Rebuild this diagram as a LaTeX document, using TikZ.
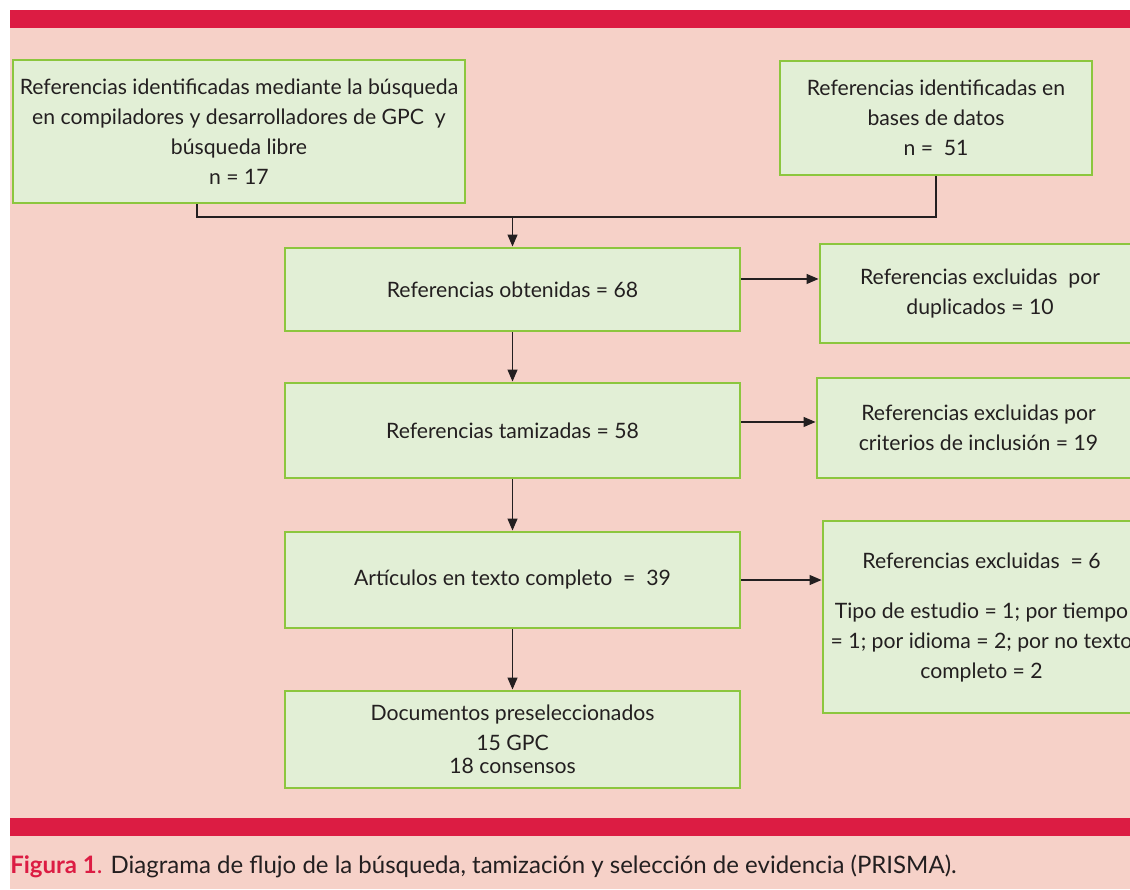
\documentclass[tikz,border=0pt]{standalone}
\usepackage{fontspec}
\setmainfont{Lato}
\usetikzlibrary{arrows.meta}

\definecolor{redbar}{HTML}{DC1C43}
\definecolor{pinkbg}{HTML}{F6D1C8}
\definecolor{boxfill}{HTML}{E2EFD6}
\definecolor{boxline}{HTML}{8CC63E}
\definecolor{textgray}{HTML}{231F20}

\tikzstyle{greenbox} = [rectangle, minimum width=341.25pt, minimum height=72pt, inner sep=0pt, align=center, text centered, draw=boxline, line width=2.2pt, fill=boxfill, text=textgray, font=\fontsize{15.9}{22.5}\selectfont]
\tikzstyle{arrow} = [line width=0.9pt, draw=textgray, -{Triangle[length=9pt, width=7.5pt]}]
\tikzstyle{joinline} = [line width=0.9pt, draw=textgray]

\begin{document}
\begin{tikzpicture}[x=0.75pt, y=-0.75pt]

% page, panel and red bars
\useasboundingbox (0,0) rectangle (1130,889);
\fill[pinkbg] (10,10) rectangle (1135,889);
\fill[redbar] (10,10) rectangle (1135,28);
\fill[redbar] (10,818) rectangle (1135,836);

% Top row - identification
\node (searchREF) [greenbox, minimum width=339pt, minimum height=107.25pt] at (239,131.5) {Referencias identificadas mediante la búsqueda\\ en compiladores y desarrolladores de GPC\ \ y\\ búsqueda libre\\ n = 17};
\node (dbREF) [greenbox, minimum width=234pt, minimum height=85.5pt] at (936,118) {Referencias identificadas en\\ bases de datos\\ n =\ \ 51};

% Column 1 - main flow
\node (obtREF) [greenbox, minimum height=62.25pt] at (512.5,289.5) {Referencias obtenidas = 68};
\node (screenREF) [greenbox, minimum height=71.25pt] at (512.5,430.5) {Referencias tamizadas = 58};
\node (fullTXT) [greenbox] at (512.5,580) {Artículos en texto completo\ \ =\ \ 39};
\node (preSEL) [greenbox, minimum height=72.75pt] at (512.5,739.5) {Documentos preseleccionados\\ 15 GPC\\[-5pt] 18 consensos};

% Column 2 - exclusions
\node (exclDUP) [greenbox, minimum width=240pt, minimum height=74.25pt] at (980,293.5) {Referencias excluidas\ \ por\\ duplicados = 10};
\node (exclCRIT) [greenbox, minimum width=242.25pt, minimum height=75pt] at (978.5,428) {Referencias excluidas por\\ criterios de inclusión = 19};
\node (exclTXT) [greenbox, minimum width=237.75pt, minimum height=144pt] at (981.5,617) {Referencias excluidas\ \ = 6\\[15pt] Tipo de estudio = 1; por tiempo\\ = 1; por idioma = 2; por no texto\\ completo = 2};

% Caption
\node (caption) [anchor=base west, inner sep=0pt, text=textgray, font=\fontsize{18}{21}\selectfont] at (10,873) {\textcolor{redbar}{\textbf{Figura 1}.} Diagrama de flujo de la búsqueda, tamización y selección de evidencia (PRISMA).};

% Arrows
\coordinate (merge) at (512.5,217);
\draw [joinline] ([xshift=-31.5pt]searchREF.south) |- (merge);
\draw [joinline] (dbREF.south) |- (merge);
\draw [arrow] (merge) -- (obtREF);
\draw [arrow] (obtREF) -- (screenREF);
\draw [arrow] (screenREF) -- (fullTXT);
\draw [arrow] (fullTXT) -- (preSEL);
\draw [arrow] ([yshift=7.9pt]obtREF.east) -- ([yshift=7.9pt]obtREF.east -| exclDUP.west);
\draw [arrow] ([yshift=6.4pt]screenREF.east) -- ([yshift=6.4pt]screenREF.east -| exclCRIT.west);
\draw [arrow] (fullTXT.east) -- (fullTXT.east -| exclTXT.west);

\end{tikzpicture}
\end{document}
